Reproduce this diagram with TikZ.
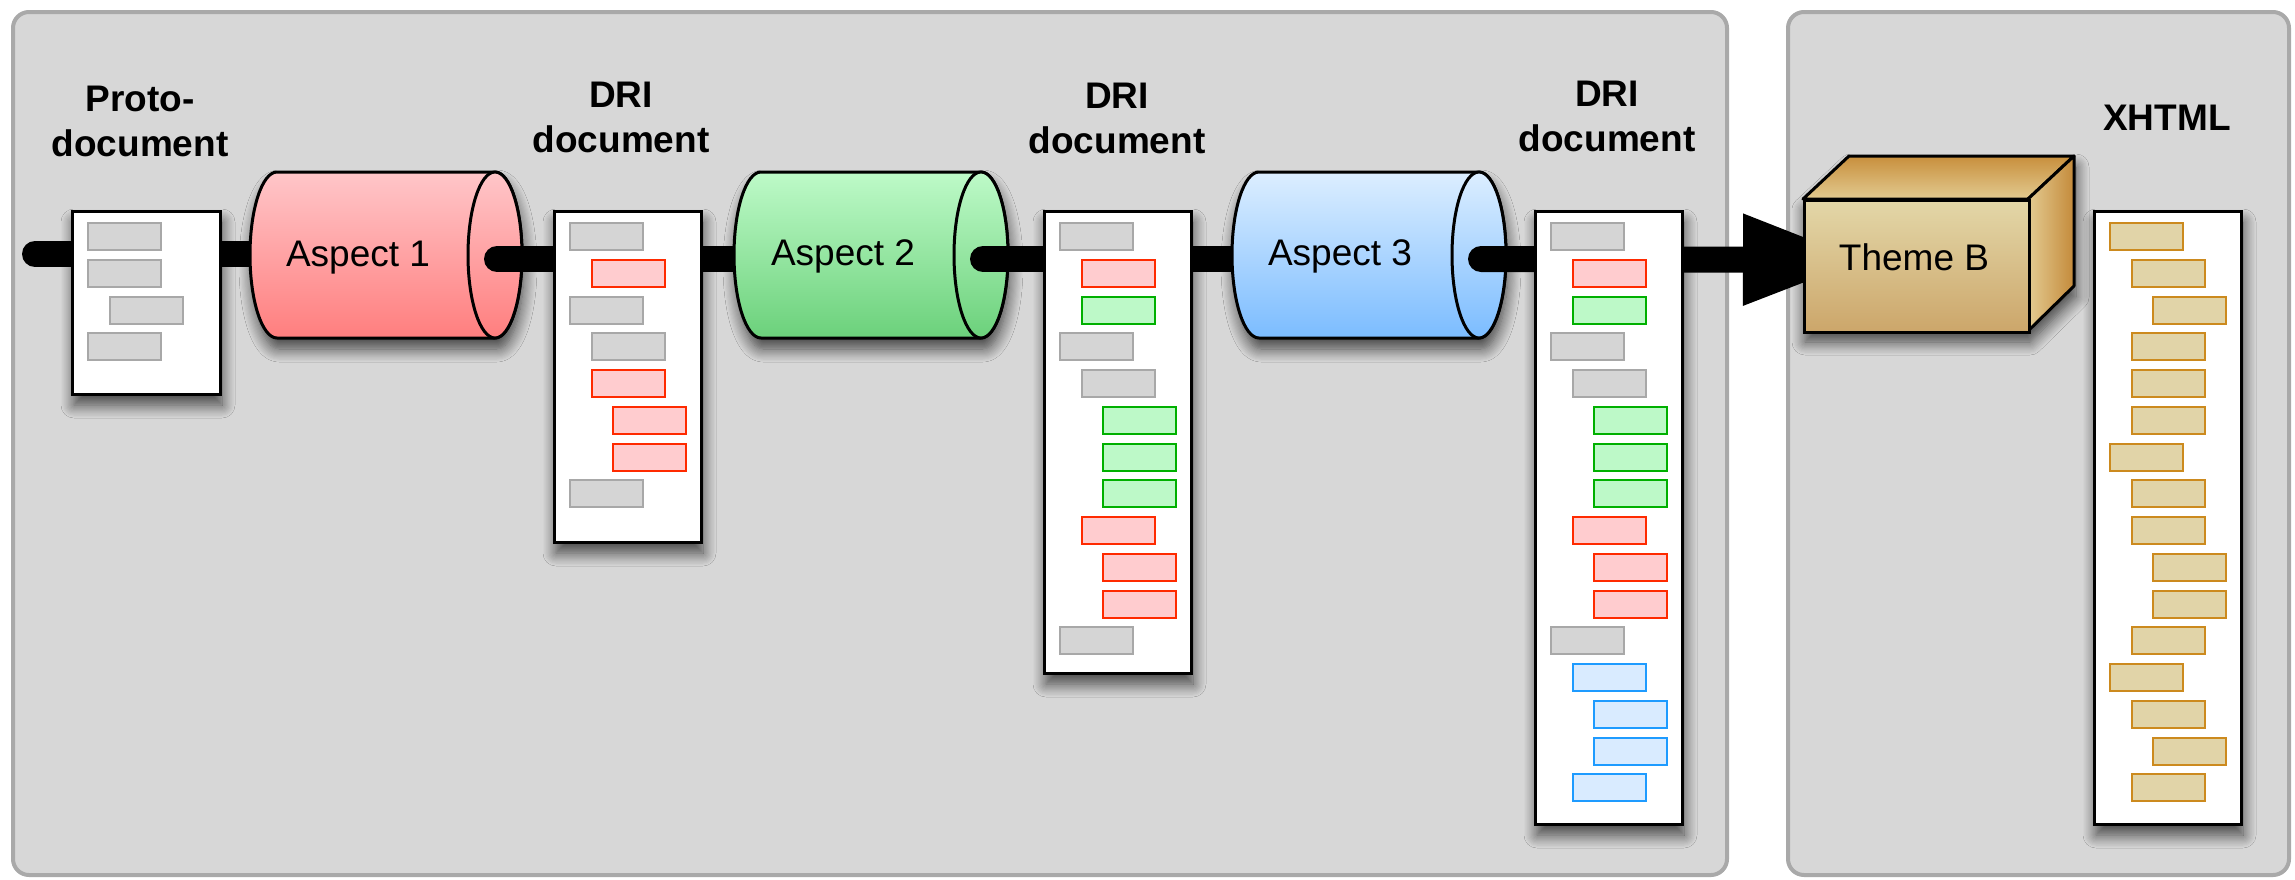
\documentclass[tikz,border=0pt]{standalone}
\usepackage{fontspec}
\setmainfont{Liberation Sans}
\usetikzlibrary{arrows.meta,shadows.blur}
\definecolor{panelF}{HTML}{D7D7D7}
\definecolor{panelD}{HTML}{A9A9A9}
\definecolor{Fg}{HTML}{D5D5D5}\definecolor{Dg}{HTML}{A8A8A8}
\definecolor{Fr}{HTML}{FFCCCF}\definecolor{Dr}{HTML}{FF2A00}
\definecolor{Fn}{HTML}{BDF9C8}\definecolor{Dn}{HTML}{00B000}
\definecolor{Fb}{HTML}{D9EBFF}\definecolor{Db}{HTML}{1E9BFF}
\definecolor{Ft}{HTML}{E1D4A8}\definecolor{Dt}{HTML}{CC8A1E}
\definecolor{redT}{HTML}{FFC6C9}\definecolor{redB}{HTML}{FF7E7E}
\definecolor{grnT}{HTML}{BEFAC8}\definecolor{grnB}{HTML}{6BD17B}
\definecolor{bluT}{HTML}{DCEEFF}\definecolor{bluB}{HTML}{7BBCFF}
\definecolor{boxFT}{HTML}{E3D7A8}\definecolor{boxFB}{HTML}{CCA66A}
\definecolor{boxTT}{HTML}{C88F3C}\definecolor{boxTB}{HTML}{E2CA90}
\definecolor{boxRL}{HTML}{E3CB92}\definecolor{boxRR}{HTML}{C48A3A}
\tikzset{
  panel/.style={fill=panelF, draw=panelD, line width=4pt, rounded corners=16pt},
  shad/.style={blur shadow={shadow xshift=2pt, shadow yshift=-11pt, shadow blur radius=13pt, shadow blur steps=12, shadow opacity=70}},
  doc/.style={draw=black, fill=white, line width=3pt, inner sep=0pt, outer sep=0pt, anchor=north west, shad},
  bar/.style={line width=26pt, line cap=round, draw=black},
  ttl/.style={font=\bfseries\fontsize{37}{45}\selectfont, align=center, inner sep=0pt, anchor=south},
  lbl/.style={font=\fontsize{37}{44}\selectfont, inner sep=0pt, anchor=base},
  cylout/.style={draw=black, line width=3pt},
}
\newcommand\docrows[3]{%
  \foreach \l/\c [count=\i from 0] in {#3}{%
    \draw[fill=F\c, draw=D\c, line width=2pt] ({#1+16+21.5*\l},{-#2-12-36.75*\i}) rectangle ++(73,-27);
  }}
\newcommand\drawcyl[5]{%
  \path[shad, cylout, top color=#4, bottom color=#5]
    (#1,#3+83) -- (#2,#3+83) arc[start angle=90,end angle=-90,x radius=27,y radius=83]
    -- (#1,#3-83) arc[start angle=270,end angle=90,x radius=27,y radius=83] -- cycle;
  \path[cylout, top color=#4, bottom color=#5] (#2,#3) ellipse[x radius=27, y radius=83];
}
\begin{document}
\begin{tikzpicture}[x=1pt,y=1pt]
\useasboundingbox (0,0) rectangle (2295,-879);
\fill[white] (0,0) rectangle (2295,-879);
% panels
\draw[panel] (13,-12) rectangle (1727,-875);
\draw[panel] (1788,-12) rectangle (2289,-875);
% coordinates
\coordinate (s0) at (35,-254);
\coordinate (c1in) at (300,-254);
\coordinate (c1out) at (497,-259);
\coordinate (c2in) at (780,-259);
\coordinate (c2out) at (983,-259);
\coordinate (c3in) at (1275,-259);
\coordinate (c3out) at (1481,-259);
\coordinate (tB) at (1866,-260);
% titles
\node[ttl] (t0) at (140,-157) {Proto-\\document};
\node[ttl] (t1) at (621,-153) {DRI\\document};
\node[ttl] (t2) at (1117,-154) {DRI\\document};
\node[ttl] (t3) at (1607,-152) {DRI\\document};
\node[ttl] (t4) at (2167,-131) {XHTML};
% stage 0
\draw[bar] (s0) -- (c1in);
\node[doc, minimum width=148pt, minimum height=183pt] (d0) at (72,-211) {};
\docrows{72}{211}{0/g,0/g,1/g,0/g}
\drawcyl{277}{495}{-255}{redT}{redB}
\node[lbl] (a1) at (358,-266) {Aspect 1};
% stage 1
\draw[bar] (c1out) -- (c2in);
\node[doc, minimum width=147pt, minimum height=331pt] (d1) at (554,-211) {};
\docrows{554}{211}{0/g,1/r,0/g,1/g,1/r,2/r,2/r,0/g}
\drawcyl{761}{981}{-255}{grnT}{grnB}
\node[lbl] (a2) at (843,-265) {Aspect 2};
% stage 2
\draw[bar] (c2out) -- (c3in);
\node[doc, minimum width=147pt, minimum height=462pt] (d2) at (1044,-211) {};
\docrows{1044}{211}{0/g,1/r,1/n,0/g,1/g,2/n,2/n,2/n,1/r,2/r,2/r,0/g}
\drawcyl{1259}{1479}{-255}{bluT}{bluB}
\node[lbl] (a3) at (1340,-265) {Aspect 3};
% stage 3
\draw[bar, -{Triangle[length=123pt,width=84pt]}] (c3out) -- (tB);
\node[doc, minimum width=147pt, minimum height=613pt] (d3) at (1535,-211) {};
\docrows{1535}{211}{0/g,1/r,1/n,0/g,1/g,2/n,2/n,2/n,1/r,2/r,2/r,0/g,1/b,2/b,2/b,1/b}
% Theme B box
\path[shad, fill=boxFB] (1803,-199) -- (1849,-156) -- (2074,-156) -- (2074,-286) -- (2028,-331) -- (1803,-331) -- cycle;
\path[cylout, top color=boxTT, bottom color=boxTB, line join=round] (1803,-199) -- (1849,-156) -- (2074,-156) -- (2028,-199) -- cycle;
\path[cylout, left color=boxRL, right color=boxRR, line join=round] (2028,-199) -- (2074,-156) -- (2074,-286) -- (2028,-331) -- cycle;
\node[draw=black, line width=3pt, top color=boxFT, bottom color=boxFB, minimum width=225pt, minimum height=132pt, anchor=north west, inner sep=0pt] (themeB) at (1803,-199) {};
\node[lbl] (tbl) at (1914,-270) {Theme B};
% XHTML document
\node[doc, minimum width=147pt, minimum height=613pt] (dx) at (2094,-211) {};
\docrows{2094}{211}{0/t,1/t,2/t,1/t,1/t,1/t,0/t,1/t,1/t,2/t,2/t,1/t,0/t,1/t,2/t,1/t}
\end{tikzpicture}
\end{document}
